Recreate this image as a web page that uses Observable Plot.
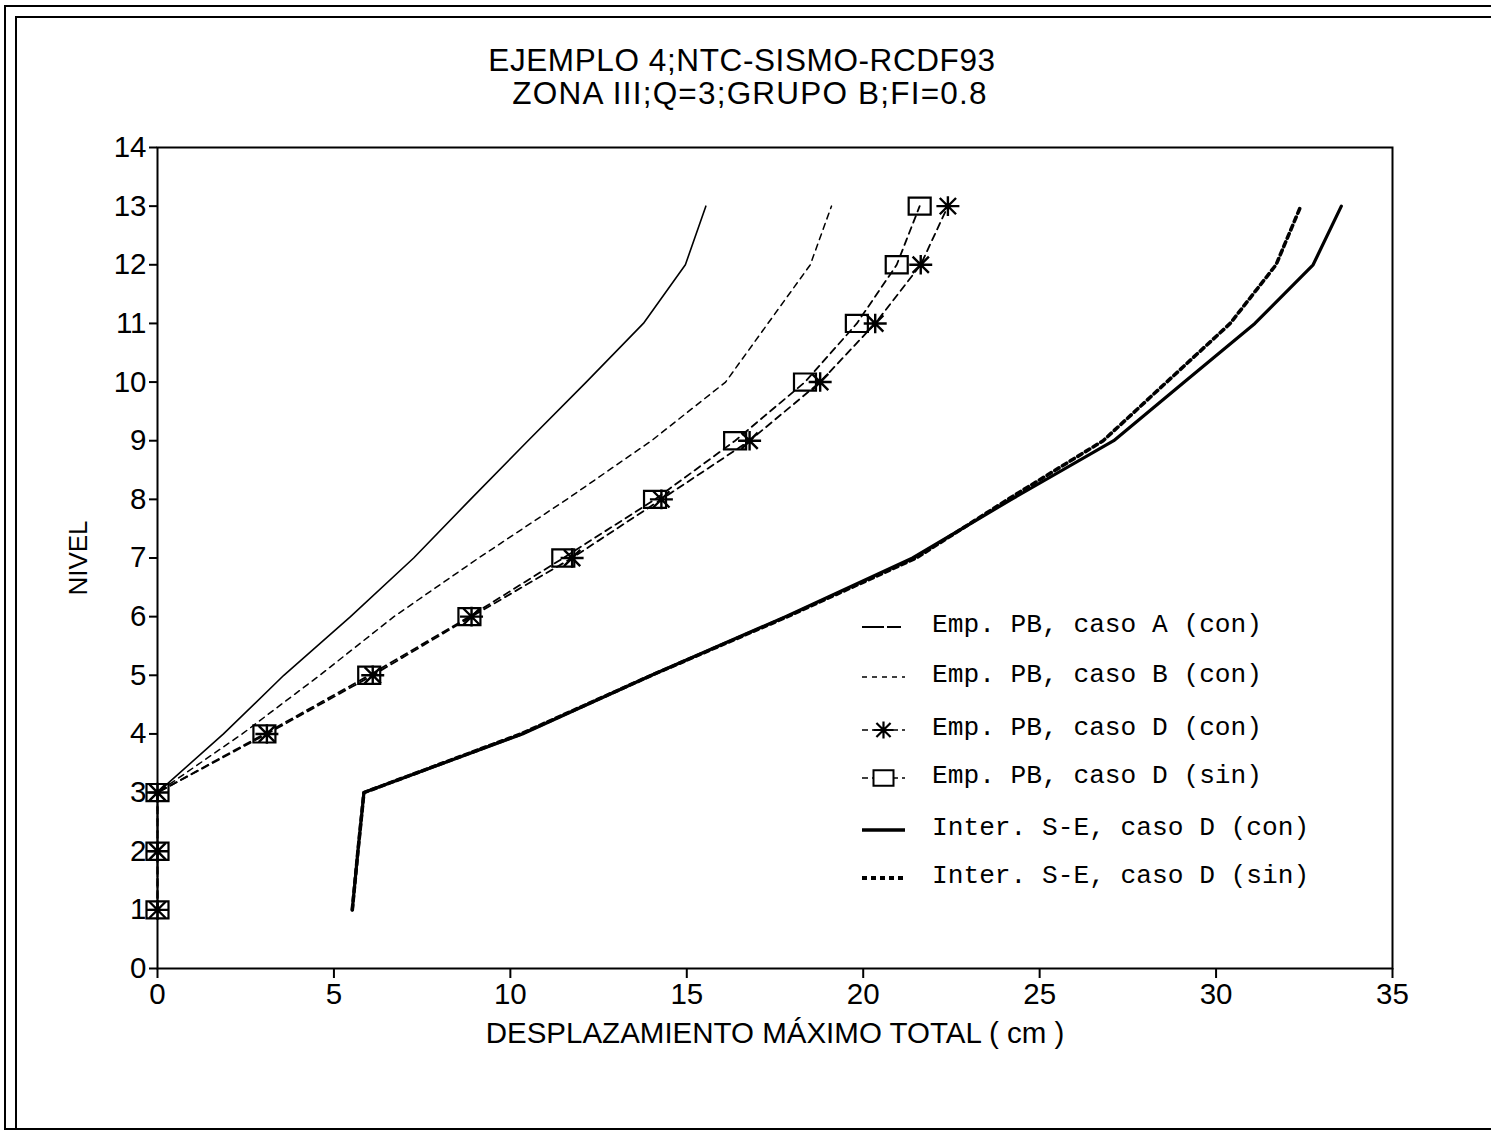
<!DOCTYPE html>
<html><head><meta charset="utf-8">
<script src="https://cdn.jsdelivr.net/npm/d3@7"></script>
<script src="https://cdn.jsdelivr.net/npm/@observablehq/plot@0.6"></script>
<style>
body{margin:0;background:#fff;}
#wrap{position:relative;width:1491px;height:1140px;overflow:hidden;font-family:"Liberation Sans",Arial,sans-serif;color:#000;background:#fff;}
.title{position:absolute;left:0;width:1484px;text-align:center;font-size:31.5px;line-height:32px;white-space:nowrap;}
.bl{position:absolute;background:#000;}
#chart{position:absolute;left:0;top:0;}
#legend{position:absolute;left:0;top:0;}
</style></head>
<body>
<div id="wrap">
  <div class="bl" style="left:4px;top:5px;width:1487px;height:2px"></div>
  <div class="bl" style="left:15px;top:16px;width:1476px;height:2px"></div>
  <div class="bl" style="left:4px;top:5px;width:2px;height:1125px"></div>
  <div class="bl" style="left:15px;top:16px;width:2px;height:1114px"></div>
  <div class="bl" style="left:4px;top:1128px;width:1487px;height:2px"></div>
  <div class="title" style="top:44px;letter-spacing:0.6px">EJEMPLO 4;NTC-SISMO-RCDF93</div>
  <div class="title" style="top:77px;letter-spacing:1.2px;left:8px">ZONA III;Q=3;GRUPO B;FI=0.8</div>
  <div id="chart"></div>
  <svg id="legend" width="1491" height="1140"></svg>
</div>
<script>
// ---- data ----
const levels   = [1, 2, 3, 4, 5, 6, 7, 8, 9, 10, 11, 12, 13];
const empA     = [0, 0, 0, 1.87, 3.58, 5.47, 7.26, 8.87, 10.5, 12.15, 13.77, 14.96, 15.54];
const empB     = [0, 0, 0, 2.4, 4.6, 6.7, 9.1, 11.6, 14.0, 16.1, 17.3, 18.5, 19.1];
const empDcon  = [0, 0, 0, 3.1, 6.1, 8.9, 11.75, 14.28, 16.78, 18.78, 20.34, 21.63, 22.4];
const empDsin  = [0, 0, 0, 3.03, 6.0, 8.84, 11.5, 14.1, 16.37, 18.35, 19.82, 20.95, 21.6];
const seCon    = [5.52, 5.68, 5.85, 10.34, 14.0, 17.8, 21.4, 24.2, 27.1, 29.1, 31.1, 32.75, 33.55];
const seSin    = [5.52, 5.68, 5.85, 10.3, 14.0, 17.85, 21.5, 24.1, 26.8, 28.6, 30.4, 31.7, 32.4];
const xTicks   = [0, 5, 10, 15, 20, 25, 30, 35];
const yTicks   = [0, 1, 2, 3, 4, 5, 6, 7, 8, 9, 10, 11, 12, 13, 14];
const legendLabels = [
  "Emp. PB, caso A (con)",
  "Emp. PB, caso B (con)",
  "Emp. PB, caso D (con)",
  "Emp. PB, caso D (sin)",
  "Inter. S-E, caso D (con)",
  "Inter. S-E, caso D (sin)"
];
const xLabel = "DESPLAZAMIENTO MÁXIMO TOTAL ( cm )";
const yLabel = "NIVEL";

// ---- helpers ----
const toRows = vals => levels.map((l, i) => ({nivel: l, d: vals[i]}));
const rowsA = toRows(empA), rowsB = toRows(empB), rowsDc = toRows(empDcon),
      rowsDs = toRows(empDsin), rowsSc = toRows(seCon), rowsSs = toRows(seSin);

const starSymbol = {
  draw(ctx, size) {
    const r = Math.sqrt(size / Math.PI);
    for (const a of [0, 45, 90, 135]) {
      const t = a * Math.PI / 180;
      const dx = Math.cos(t) * r, dy = Math.sin(t) * r * (a === 90 ? 0.85 : 1);
      ctx.moveTo(-dx, -dy); ctx.lineTo(dx, dy);
    }
  }
};
const rectSymbol = {
  draw(ctx, size) {
    const r = Math.sqrt(size / Math.PI);
    const w = r * 1.0, h = r * 0.78;
    ctx.moveTo(-w, -h); ctx.lineTo(w, -h); ctx.lineTo(w, h); ctx.lineTo(-w, h); ctx.closePath();
  }
};

const chart = Plot.plot({
  width: 1491,
  height: 1140,
  marginLeft: 157,
  marginRight: 99,
  marginTop: 147,
  marginBottom: 172,
  style: {fontFamily: "Liberation Sans, Arial, sans-serif", fontSize: "29px", color: "#000", background: "transparent"},
  x: {domain: [0, 35]},
  y: {domain: [0, 14]},
  marks: [
    Plot.frame({stroke: "#000", strokeWidth: 2}),
    Plot.axisX({ticks: xTicks, tickSize: 10, tickPadding: 5, strokeWidth: 2, label: xLabel, labelAnchor: "center", labelOffset: 74, labelArrow: "none", fontSize: 29.5}),
    Plot.axisY({ticks: yTicks, tickSize: 8, tickPadding: 3, strokeWidth: 2, label: null, fontSize: 29.5}),
    Plot.axisY({ticks: [], tickSize: 0, label: yLabel, labelAnchor: "center", labelOffset: 89, labelArrow: "none", fontSize: 26}),
    Plot.line(rowsA, {x: "d", y: "nivel", stroke: "#000", strokeWidth: 1.6}),
    Plot.line(rowsB, {x: "d", y: "nivel", stroke: "#000", strokeWidth: 1.5, strokeDasharray: "6,5"}),
    Plot.line(rowsDc, {x: "d", y: "nivel", stroke: "#000", strokeWidth: 1.8, strokeDasharray: "7,5"}),
    Plot.line(rowsDs, {x: "d", y: "nivel", stroke: "#000", strokeWidth: 1.8, strokeDasharray: "7,5"}),
    Plot.line(rowsSc, {x: "d", y: "nivel", stroke: "#000", strokeWidth: 3.2}),
    Plot.line(rowsSs, {x: "d", y: "nivel", stroke: "#000", strokeWidth: 3.6, strokeDasharray: "5,4"}),
    Plot.dot(rowsDs, {x: "d", y: "nivel", symbol: rectSymbol, r: 11, stroke: "#000", strokeWidth: 2.2, fill: "none"}),
    Plot.dot(rowsDc, {x: "d", y: "nivel", symbol: starSymbol, r: 11.5, stroke: "#000", strokeWidth: 2.4, fill: "none"})
  ]
});
document.getElementById("chart").appendChild(chart);

// ---- legend (inside plot area) ----
const lg = d3.select("#legend");
const rowY = [623, 673, 726, 774, 826, 874];
const sx0 = 862, sx1 = 905, tx = 932;
const styles = [
  {w: 1.8, dash: "22,3,14"},
  {w: 1.5, dash: "5,5"},
  {w: 1.6, dash: "6,4", marker: "star"},
  {w: 1.6, dash: "6,4", marker: "rect"},
  {w: 3.6, dash: null},
  {w: 4, dash: "5,4"}
];
legendLabels.forEach((lab, i) => {
  const y = rowY[i], s = styles[i];
  const g = lg.append("g");
  g.append("line").attr("x1", sx0).attr("x2", sx1).attr("y1", y + 4).attr("y2", y + 4)
    .attr("stroke", "#000").attr("stroke-width", s.w).attr("stroke-dasharray", s.dash);
  const cx = (sx0 + sx1) / 2;
  if (s.marker === "star") {
    const p = d3.path(); starSymbol.draw(p, Math.PI * 10 * 10);
    g.append("path").attr("d", p.toString()).attr("transform", `translate(${cx},${y + 4})`)
      .attr("stroke", "#000").attr("stroke-width", 2.2).attr("fill", "none");
  }
  if (s.marker === "rect") {
    const p = d3.path(); rectSymbol.draw(p, Math.PI * 10 * 10);
    g.append("path").attr("d", p.toString()).attr("transform", `translate(${cx},${y + 4})`)
      .attr("stroke", "#000").attr("stroke-width", 2).attr("fill", "#fff");
  }
  g.append("text").attr("x", tx).attr("y", y + 9).text(lab)
    .attr("font-family", "Liberation Mono, Courier New, monospace").attr("font-size", 26.2)
    .attr("fill", "#000");
});
</script>
</body></html>
